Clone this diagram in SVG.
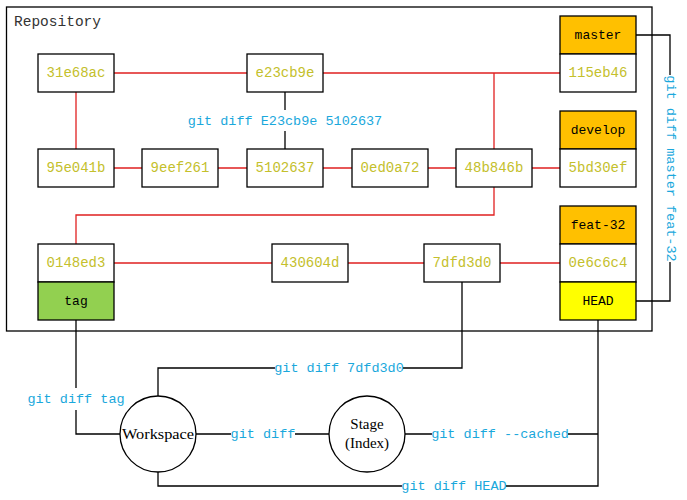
<svg xmlns="http://www.w3.org/2000/svg" width="687" height="500" viewBox="0 0 687 500">
<style>
.box{fill:#fff;stroke:#000;stroke-width:1.3}
.orange{fill:#ffc000;stroke:#000;stroke-width:1.3}
.green{fill:#92d050;stroke:#000;stroke-width:1.3}
.yellow{fill:#ffff00;stroke:#000;stroke-width:1.3}
.hash{font-family:"Liberation Mono",monospace;font-size:14px;fill:#c4c02c;text-anchor:middle;dominant-baseline:central}
.ref{font-family:"Liberation Mono",monospace;font-size:13px;fill:#000;text-anchor:middle;dominant-baseline:central}
.lbl{font-family:"Liberation Mono",monospace;font-size:13.5px;fill:#1aa8dc;text-anchor:middle;dominant-baseline:central}
.serif{font-family:"Liberation Serif",serif;font-size:15px;fill:#000;text-anchor:middle;dominant-baseline:central}
.red{stroke:#e02020;stroke-width:1.3;fill:none}
.blk{stroke:#000;stroke-width:1.3;fill:none}
</style>
<rect width="687" height="500" fill="#fff"/>
<g id="repository">
<rect x="6.5" y="7" width="645.5" height="324" fill="none" stroke="#000" stroke-width="1.3"/>
<text x="14" y="22" font-family="Liberation Mono,monospace" font-size="14.5" fill="#333" dominant-baseline="central">Repository</text>
</g>
<g id="connectors">
<path class="red" d="M114 73H247M323 73H560M76 92V149M114 168H142M218 168H247M323 168H352M428 168H456M532 168H560M494 149V73M494 187V215H76V244M114 263H272M348 263H424M500 263H560"/>
<path class="blk" d="M285 92V110M285 131V149"/>
<path class="blk" d="M636 35H670V75M670 262V301H636"/>
<path class="blk" d="M76 320V388M76 410V434H120"/>
<path class="blk" d="M158 396V368H275M403 368H462V282"/>
<path class="blk" d="M196 434H231M295 434H329"/>
<path class="blk" d="M405 434H432M568 434H598M598 320V486H506M402 486H158V472"/>
<text class="lbl" x="285" y="121" font-size="14">git diff E23cb9e 5102637</text>
<text class="lbl" transform="translate(670.5 168.5) rotate(90)">git diff master feat-32</text>
<text class="lbl" x="76" y="399">git diff tag</text>
<text class="lbl" x="339" y="368">git diff 7dfd3d0</text>
<text class="lbl" x="263" y="434">git diff</text>
<text class="lbl" x="500" y="434">git diff --cached</text>
<text class="lbl" x="454" y="486">git diff HEAD</text>
</g>
<g id="n31e68ac"><rect class="box" x="38" y="54" width="76" height="38"/><text class="hash" x="76" y="73">31e68ac</text></g>
<g id="ne23cb9e"><rect class="box" x="247" y="54" width="76" height="38"/><text class="hash" x="285" y="73">e23cb9e</text></g>
<g id="master"><rect class="orange" x="560" y="16" width="76" height="38"/><text class="ref" x="598" y="35">master</text></g>
<g id="n115eb46"><rect class="box" x="560" y="54" width="76" height="38"/><text class="hash" x="598" y="73">115eb46</text></g>
<g id="n95e041b"><rect class="box" x="38" y="149" width="76" height="38"/><text class="hash" x="76" y="168">95e041b</text></g>
<g id="n9eef261"><rect class="box" x="142" y="149" width="76" height="38"/><text class="hash" x="180" y="168">9eef261</text></g>
<g id="n5102637"><rect class="box" x="247" y="149" width="76" height="38"/><text class="hash" x="285" y="168">5102637</text></g>
<g id="n0ed0a72"><rect class="box" x="352" y="149" width="76" height="38"/><text class="hash" x="390" y="168">0ed0a72</text></g>
<g id="n48b846b"><rect class="box" x="456" y="149" width="76" height="38"/><text class="hash" x="494" y="168">48b846b</text></g>
<g id="develop"><rect class="orange" x="560" y="111" width="76" height="38"/><text class="ref" x="598" y="130">develop</text></g>
<g id="n5bd30ef"><rect class="box" x="560" y="149" width="76" height="38"/><text class="hash" x="598" y="168">5bd30ef</text></g>
<g id="n0148ed3"><rect class="box" x="38" y="244" width="76" height="38"/><text class="hash" x="76" y="263">0148ed3</text></g>
<g id="tag"><rect class="green" x="38" y="282" width="76" height="38"/><text class="ref" x="76" y="301">tag</text></g>
<g id="n430604d"><rect class="box" x="272" y="244" width="76" height="38"/><text class="hash" x="310" y="263">430604d</text></g>
<g id="n7dfd3d0"><rect class="box" x="424" y="244" width="76" height="38"/><text class="hash" x="462" y="263">7dfd3d0</text></g>
<g id="feat-32"><rect class="orange" x="560" y="206" width="76" height="38"/><text class="ref" x="598" y="225">feat-32</text></g>
<g id="n0e6c6c4"><rect class="box" x="560" y="244" width="76" height="38"/><text class="hash" x="598" y="263">0e6c6c4</text></g>
<g id="head"><rect class="yellow" x="560" y="282" width="76" height="38"/><text class="ref" x="598" y="301">HEAD</text></g>
<g id="workspace"><circle cx="158" cy="434" r="38" class="box"/><text class="serif" x="158" y="434" font-size="14" textLength="72" lengthAdjust="spacingAndGlyphs">Workspace</text></g>
<g id="stage"><circle cx="367" cy="434" r="38" class="box"/><text class="serif" x="367" y="424">Stage</text><text class="serif" x="367" y="443">(Index)</text></g>
</svg>
